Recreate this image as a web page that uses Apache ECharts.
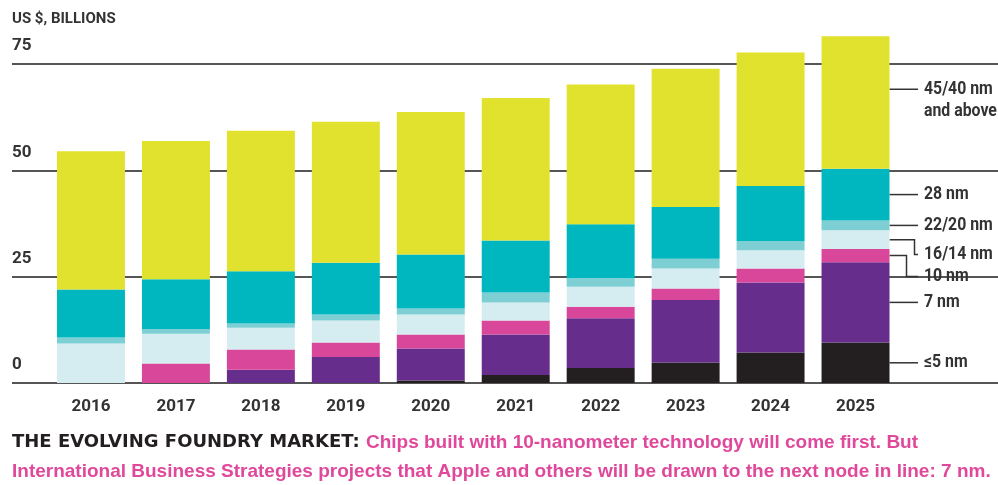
<!DOCTYPE html>
<html>
<head>
<meta charset="utf-8">
<script src="https://cdn.jsdelivr.net/npm/echarts@6/dist/echarts.min.js"></script>
<style>
  html, body { margin: 0; padding: 0; background: #fff; }
  #main { width: 998px; height: 485px; }
</style>
</head>
<body>
<div id="main"></div>
<script>
// 数据（从图上读出，单位：十亿美元）
const years = ['2016', '2017', '2018', '2019', '2020', '2021', '2022', '2023', '2024', '2025']
const nm5 = [0, 0, 0, 0, 0.6, 1.9, 3.5, 4.8, 7.2, 9.5]
const nm7 = [0, 0, 3.1, 6.1, 7.5, 9.5, 11.7, 14.7, 16.4, 18.9]
const nm10 = [0, 4.6, 4.8, 3.4, 3.3, 3.3, 2.7, 2.7, 3.3, 3.1]
const nm16 = [9.3, 7.0, 5.1, 5.2, 4.7, 4.2, 4.7, 4.7, 4.3, 4.4]
const nm22 = [1.4, 1.1, 1.0, 1.4, 1.4, 2.4, 2.0, 2.3, 2.2, 2.3]
const nm28 = [11.3, 11.7, 12.3, 12.2, 12.7, 12.2, 12.7, 12.2, 12.9, 12.2]
const nm45 = [32.5, 32.5, 33.0, 33.1, 33.5, 33.5, 32.9, 32.5, 31.4, 31.1]
const yTicks = [0, 25, 50, 75]

const seriesNames = ['≤5 nm', '7 nm', '10 nm', '16/14 nm', '22/20 nm', '28 nm', '45/40 nm\nand above']
const seriesData = [nm5, nm7, nm10, nm16, nm22, nm28, nm45]
const colors = ['#231f20', '#662d8c', '#d9479a', '#d5edf0', '#7ecfd4', '#00b6bf', '#e1e22d']

const font = 'Roboto, "Liberation Sans", sans-serif'
const textColor = '#333'

var myChart = echarts.init(document.getElementById('main'))

var option = {
  animation: false,
  grid: [
    // 背景网格线（一直延伸到右边）
    { left: 12, right: 0, top: 64, bottom: 102 },
    // 柱状图
    { left: 48.5, right: 100, top: 64, bottom: 102 },
  ],
  xAxis: [
    { type: 'value', gridIndex: 0, show: false },
    {
      type: 'category',
      gridIndex: 1,
      data: years,
      axisLine: { show: false },
      axisTick: { show: false },
      axisLabel: {
        margin: 15,
        fontFamily: font,
        fontWeight: 'bold',
        fontSize: 17,
        color: textColor,
      },
    },
  ],
  yAxis: [
    {
      type: 'value',
      gridIndex: 0,
      min: 0,
      max: yTicks[yTicks.length - 1],
      interval: 25,
      name: 'US $, BILLIONS',
      nameLocation: 'end',
      nameGap: 45,
      nameTextStyle: {
        align: 'left',
        verticalAlign: 'middle',
        fontFamily: font,
        fontWeight: 'bold',
        fontSize: 15,
        color: textColor,
      },
      axisLine: { show: false },
      axisTick: { show: false },
      axisLabel: {
        inside: true,
        margin: 0,
        align: 'left',
        verticalAlign: 'bottom',
        lineHeight: 18,
        padding: [0, 0, 9, 0],
        fontFamily: font,
        fontWeight: 'bold',
        fontSize: 17,
        color: textColor,
      },
      splitLine: { lineStyle: { color: '#555', width: 2 } },
    },
    {
      type: 'value',
      gridIndex: 1,
      min: 0,
      max: yTicks[yTicks.length - 1],
      interval: 25,
      show: false,
      splitLine: { show: false },
    },
  ],
  series: seriesData.map((d, i) => ({
    name: seriesNames[i],
    type: 'bar',
    stack: 'total',
    xAxisIndex: 1,
    yAxisIndex: 1,
    barWidth: '80%',
    clip: false,
    data: d,
    itemStyle: { color: colors[i] },
  })),
}

myChart.setOption(option)

// 右侧标注：从 2025 年柱子的各段引出
const last = years.length - 1
const cx = myChart.convertToPixel({ xAxisIndex: 1 }, years[last])
const band = cx - myChart.convertToPixel({ xAxisIndex: 1 }, years[last - 1])
const barRight = cx + band * 0.4
const lineEnd = 918
const textX = 924

let base = 0
const anchors = seriesData.map((d, i) => {
  const v = d[last]
  const frac = i === seriesData.length - 1 ? 0.6 : 0.5
  const y = myChart.convertToPixel({ yAxisIndex: 1 }, base + v * frac)
  base += v
  return y
})

// 16/14 nm 与 10 nm 的标签往下错开
const labelY = anchors.slice()
labelY[2] = anchors[1] - 26
labelY[3] = labelY[2] - 22

const elbowX = { 2: barRight + 17, 3: barRight + 25 }

const lineStyle = { stroke: '#333', lineWidth: 1.5, fill: null }
const graphics = []
seriesNames.forEach((name, i) => {
  let pts
  if (elbowX[i]) {
    pts = [[barRight, anchors[i]], [elbowX[i], anchors[i]], [elbowX[i], labelY[i]], [lineEnd, labelY[i]]]
  } else {
    pts = [[barRight, anchors[i]], [lineEnd, anchors[i]]]
  }
  graphics.push({ type: 'polyline', shape: { points: pts }, style: lineStyle, silent: true })
  graphics.push({
    type: 'text',
    x: textX,
    y: labelY[i] - 11,
    scaleX: 0.88,
    style: {
      text: name,
      fill: textColor,
      font: 'bold 18px ' + font,
      lineHeight: 22,
      verticalAlign: 'top',
    },
  })
})

// 图注
graphics.push({
  type: 'text',
  left: 12,
  top: 433,
  style: {
    text:
      '{a|THE EVOLVING FOUNDRY MARKET: }{b|Chips built with 10-nanometer technology will come first. But}\n' +
      '{b|International Business Strategies projects that Apple and others will be drawn to the next node in line: 7 nm.}',
    rich: {
      a: { fontFamily: '"DejaVu Sans"', fontWeight: 'bold', fontSize: 18, fill: '#231f20', lineHeight: 29 },
      b: { fontFamily: '"Liberation Sans"', fontWeight: 'bold', fontSize: 19, fill: '#e0489b', lineHeight: 29 },
    },
  },
})

myChart.setOption({ graphic: graphics })
</script>
</body>
</html>
